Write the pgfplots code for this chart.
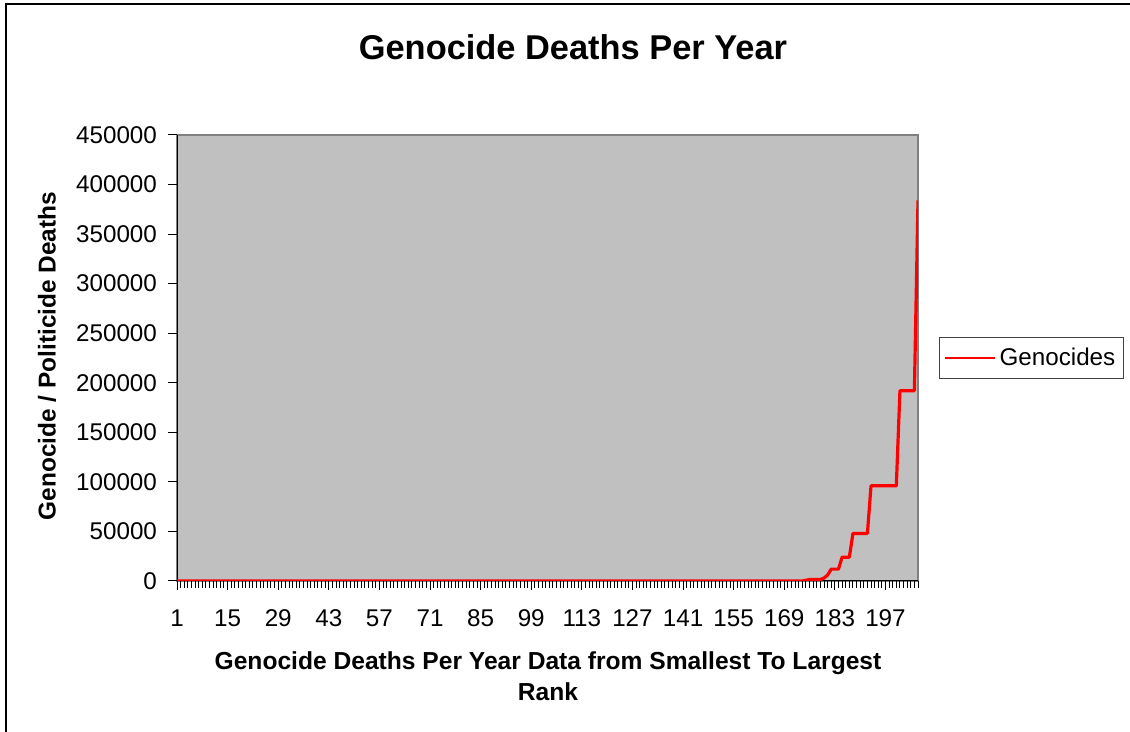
\documentclass[border=0pt]{standalone}
\usepackage{fontspec}
\setmainfont{Liberation Sans}
\usepackage{pgfplots}
\pgfplotsset{compat=1.18}
\definecolor{plotgrey}{HTML}{C0C0C0}
\definecolor{framegrey}{HTML}{808080}
\definecolor{legendframe}{HTML}{404040}

\begin{document}
\begin{tikzpicture}
\useasboundingbox (0pt,0pt) rectangle (565pt,366pt);
% chart frame (cut off at right and bottom in the reference)
\draw[line width=0.8pt] (3pt,-10pt) -- (3pt,364pt) -- (580pt,364pt);
\begin{axis}[
  at={(88.5pt,75.5pt)}, anchor=south west,
  scale only axis, width=370.5pt, height=223pt,
  axis background/.style={fill=plotgrey, draw=framegrey, line width=1pt},
  separate axis lines,
  axis x line*=bottom, axis y line*=left,
  axis line style={black, line width=0.5pt, -},
  xmin=1, xmax=206, ymin=0, ymax=450000,
  xtick={1,15,...,197},
  minor xtick={1,...,206},
  ytick={0,50000,...,450000},
  scaled y ticks=false,
  /pgf/number format/.cd, fixed, set thousands separator={}, assume math mode=true,
  /pgfplots/.cd,
  tick align=outside,
  major tick length=4.5pt, minor tick length=3.5pt,
  x tick style={black, line width=0.5pt},
  y tick style={black, line width=0.5pt},
  minor x tick style={black, line width=0.5pt},
  tick label style={font=\fontsize{12.1}{14}\selectfont},
  xticklabel style={yshift=-6.5pt},
  yticklabel style={xshift=-2pt},
  title={Genocide Deaths Per Year},
  title style={at={(axis description cs:0.5344,1.170)}, anchor=center,
    font=\fontsize{17.2}{20}\selectfont\bfseries},
  xlabel={Genocide Deaths Per Year Data from Smallest To Largest\\Rank},
  xlabel style={at={(axis description cs:0.5007,-0.213)}, anchor=center,
    align=center, font=\fontsize{12.3}{15.5}\selectfont\bfseries},
  ylabel={Genocide / Politicide Deaths},
  ylabel style={at={(axis description cs:-0.1754,0.5045)}, anchor=center,
    rotate=0, font=\fontsize{12.2}{14}\selectfont\bfseries},
  legend style={at={(1.0283,0.5)}, anchor=west, draw=legendframe,
    line width=0.6pt, fill=white, inner xsep=2pt, inner ysep=3pt,
    font=\fontsize{12.1}{14}\selectfont},
  legend cell align=left,
  legend image code/.code={\draw[#1, line width=1pt] (0pt,0pt) -- (25pt,0pt);},
]
\addplot[red, line width=1.6pt, line join=round] coordinates {
(1,0) (2,0) (3,0) (4,0) (5,0) (6,0) (7,0) (8,0) (9,0) (10,0)
(11,0) (12,0) (13,0) (14,0) (15,0) (16,0) (17,0) (18,0) (19,0) (20,0)
(21,0) (22,0) (23,0) (24,0) (25,0) (26,0) (27,0) (28,0) (29,0) (30,0)
(31,0) (32,0) (33,0) (34,0) (35,0) (36,0) (37,0) (38,0) (39,0) (40,0)
(41,0) (42,0) (43,0) (44,0) (45,0) (46,0) (47,0) (48,0) (49,0) (50,0)
(51,0) (52,0) (53,0) (54,0) (55,0) (56,0) (57,0) (58,0) (59,0) (60,0)
(61,0) (62,0) (63,0) (64,0) (65,0) (66,0) (67,0) (68,0) (69,0) (70,0)
(71,0) (72,0) (73,0) (74,0) (75,0) (76,0) (77,0) (78,0) (79,0) (80,0)
(81,0) (82,0) (83,0) (84,0) (85,0) (86,0) (87,0) (88,0) (89,0) (90,0)
(91,0) (92,0) (93,0) (94,0) (95,0) (96,0) (97,0) (98,0) (99,0) (100,0)
(101,0) (102,0) (103,0) (104,0) (105,0) (106,0) (107,0) (108,0) (109,0) (110,0)
(111,0) (112,0) (113,0) (114,0) (115,0) (116,0) (117,0) (118,0) (119,0) (120,0)
(121,0) (122,0) (123,0) (124,0) (125,0) (126,0) (127,0) (128,0) (129,0) (130,0)
(131,0) (132,0) (133,0) (134,0) (135,0) (136,0) (137,0) (138,0) (139,0) (140,0)
(141,0) (142,0) (143,0) (144,0) (145,0) (146,0) (147,0) (148,0) (149,0) (150,0)
(151,0) (152,0) (153,0) (154,0) (155,0) (156,0) (157,0) (158,0) (159,0) (160,0)
(161,0) (162,0) (163,0) (164,0) (165,0) (166,0) (167,0) (168,0) (169,0) (170,0)
(171,0) (172,0) (173,0) (174,0) (175,750) (176,1500) (177,1500) (178,1500) (179,1500) (180,3000)
(181,6000) (182,12000) (183,12000) (184,12000) (185,24000) (186,24000) (187,24000) (188,48000) (189,48000) (190,48000)
(191,48000) (192,48000) (193,96000) (194,96000) (195,96000) (196,96000) (197,96000) (198,96000) (199,96000) (200,96000)
(201,192000) (202,192000) (203,192000) (204,192000) (205,192000) (206,384000)
};
\addlegendentry{Genocides}
\end{axis}
\end{tikzpicture}
\end{document}
